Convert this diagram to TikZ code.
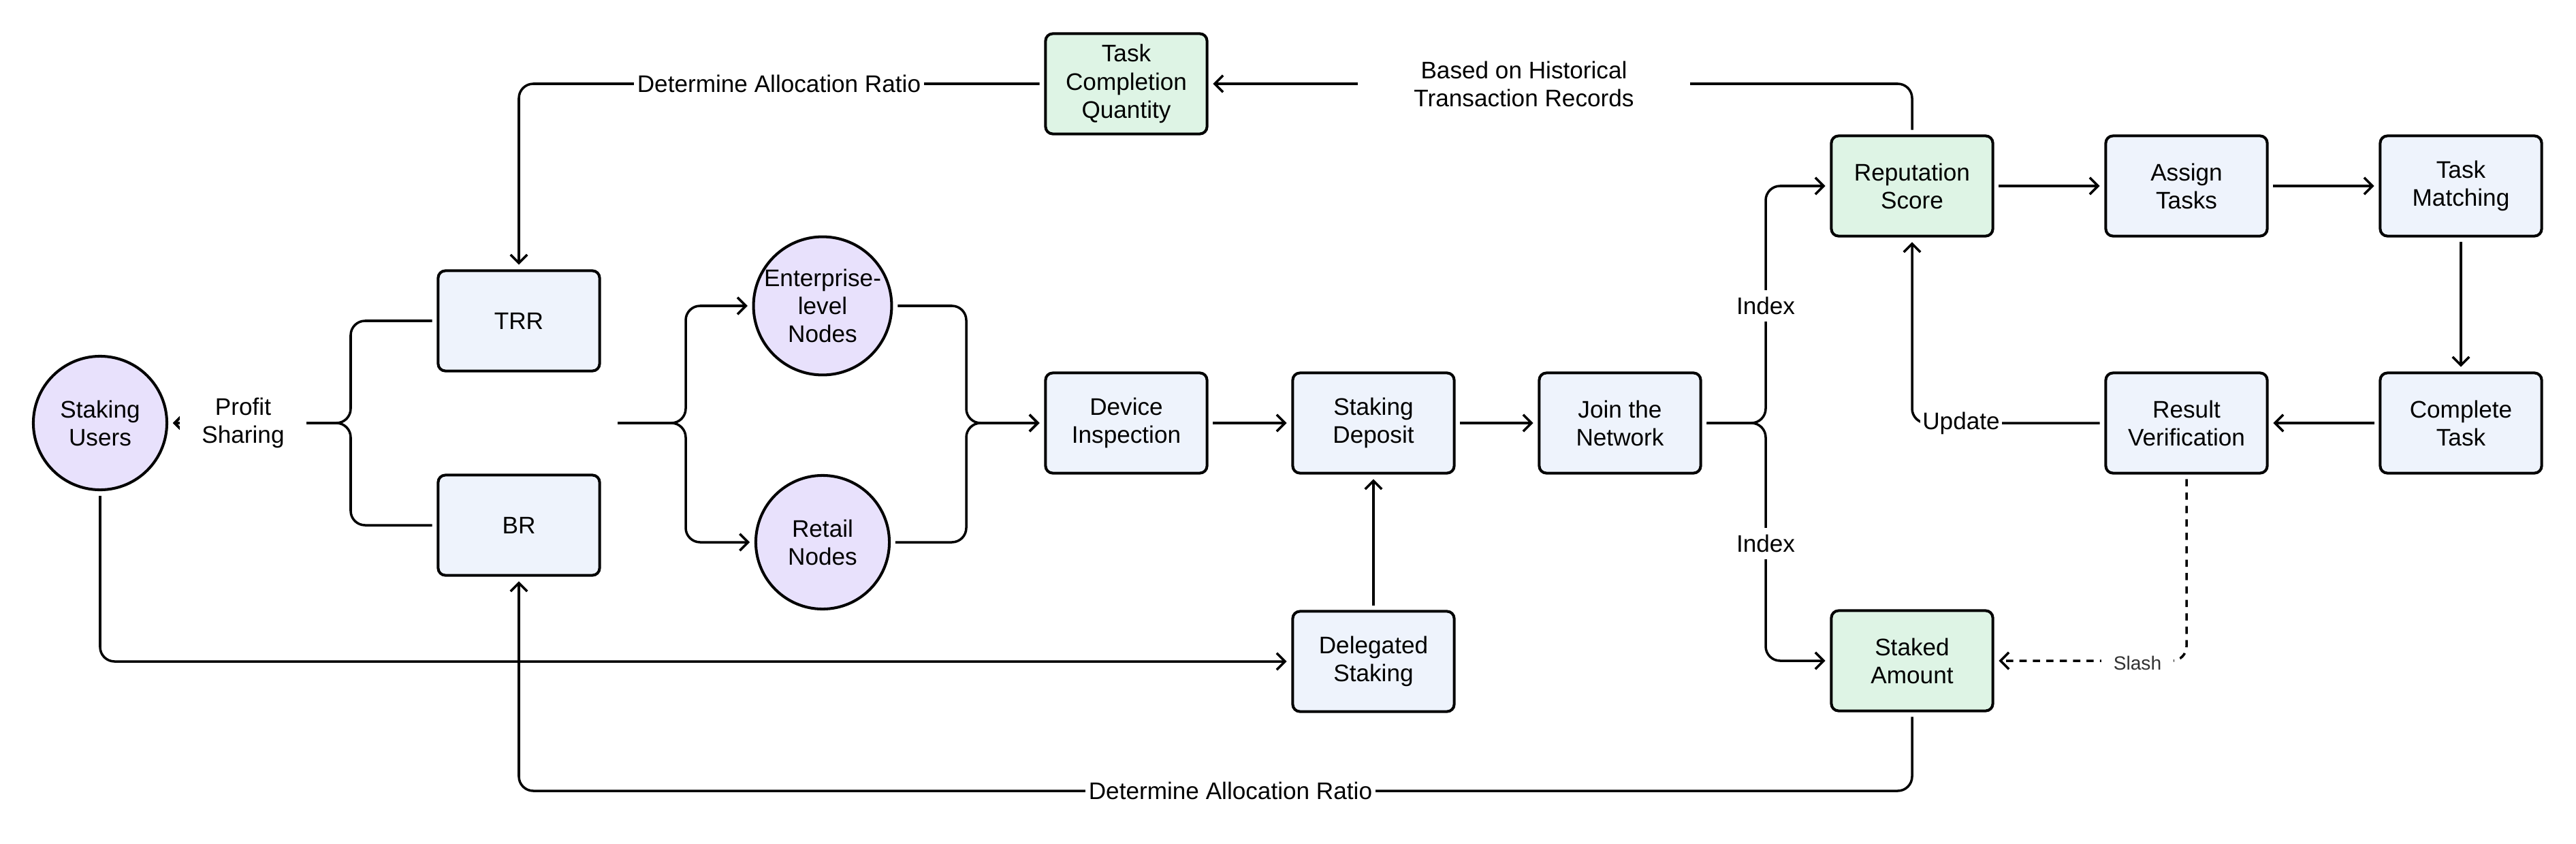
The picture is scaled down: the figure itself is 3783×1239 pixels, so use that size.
\documentclass[tikz,border=0pt]{standalone}
\usepackage{fontspec}
\setmainfont{Liberation Sans}
\usetikzlibrary{arrows.meta,calc}
\definecolor{bluefill}{RGB}{238,243,252}
\definecolor{greenfill}{RGB}{222,244,229}
\definecolor{purplefill}{RGB}{232,225,252}
\definecolor{slashgray}{RGB}{50,50,50}
\begin{document}
\begin{tikzpicture}[x=0.01cm,y=-0.01cm,
  font=\fontsize{10pt}{11.7pt}\selectfont,
  box/.style={draw=black, line width=1.15pt, rounded corners=3pt, fill=bluefill,
    minimum width=2.37cm, minimum height=1.47cm, inner sep=0pt, align=center, outer sep=2.5pt},
  gbox/.style={box, fill=greenfill},
  circ/.style={draw=black, line width=1.15pt, circle, fill=purplefill,
    minimum size=1.96cm, inner sep=0pt, align=center, outer sep=2.5pt},
  conn/.style={draw=black, line width=1pt, rounded corners=6pt},
  arr/.style={-{Straight Barb[length=3.5pt,width=7pt]}},
  lab/.style={fill=white, inner sep=1.5pt, align=center},
  slashdash/.style={dash pattern=on 3pt off 2.6pt}
]
\useasboundingbox (0,0) rectangle (3783,1239);

% nodes
\node[circ] (SU) at (147,621) {Staking\\Users};
\node[box] (TRR) at (762,471) {TRR};
\node[box] (BR) at (762,771) {BR};
\node[circ] (EN) at (1208,449) {Enterprise-\\level\\Nodes};
\node[circ] (RN) at (1208,796) {Retail\\Nodes};
\node[box] (DI) at (1654,621) {Device\\Inspection};
\node[box] (SD) at (2017,621) {Staking\\Deposit};
\node[box] (DS) at (2017,971) {Delegated\\Staking};
\node[box] (JN) at (2379,621) {Join the\\Network};
\node[gbox] (TCQ) at (1654,123) {Task\\Completion\\Quantity};
\node[gbox] (RS) at (2808,273) {Reputation\\Score};
\node[box] (AT) at (3211,273) {Assign\\Tasks};
\node[box] (TM) at (3614,273) {Task\\Matching};
\node[box] (CT) at (3614,621) {Complete\\Task};
\node[box] (RV) at (3211,621) {Result\\Verification};
\node[gbox] (SA) at (2808,970) {Staked\\Amount};
\coordinate (B2) at (907,621);

% profit sharing brace
\draw[conn,arr] (TRR.west) -| (515,621) -- (SU.east);
\draw[conn,arr] (BR.west) -| (515,621) -- (SU.east);
\node[lab, minimum width=1.86cm, minimum height=0.9cm] (PS) at (357,621) {Profit\\Sharing};

% node-type brace
\draw[conn,arr] (B2) -| (1007,449) -- (EN.west);
\draw[conn,arr] (B2) -| (1007,796) -- (RN.west);
\draw[conn,arr] (EN.east) -| (1419,621) -- (DI.west);
\draw[conn,arr] (RN.east) -| (1419,621) -- (DI.west);

% main row
\draw[conn,arr] (DI.east) -- (SD.west);
\draw[conn,arr] (SD.east) -- (JN.west);
\draw[conn,arr] (DS.north) -- (SD.south);
\draw[conn,arr] (SU.south) |- (DS.west);

% index brace
\draw[conn,arr] (JN.east) -| (2593,273) -- (RS.west);
\draw[conn,arr] (JN.east) -| (2593,970) -- (SA.west);
\node[lab, inner sep=3pt] (I1) at (2593,449) {Index};
\node[lab, inner sep=3pt] (I2) at (2593,798) {Index};

% task loop
\draw[conn,arr] (RS.east) -- (AT.west);
\draw[conn,arr] (AT.east) -- (TM.west);
\draw[conn,arr] (TM.south) -- (CT.north);
\draw[conn,arr] (CT.west) -- (RV.east);
\draw[conn,arr] (RV.west) -| (RS.south);
\node[lab, inner sep=1pt] (UP) at (2880,621) {Update};
\draw[conn,arr,slashdash] (RV.south) |- (SA.east);
\node[lab, inner xsep=5pt, inner ysep=2pt, text=slashgray, font=\fontsize{8pt}{9.5pt}\selectfont] (SL) at (3139,973) {Slash};

% top feedback
\draw[conn,arr] (RS.north) |- (TCQ.east);
\node[lab, minimum width=4.88cm] (BH) at (2238,123) {Based on Historical\\Transaction Records};
\draw[conn,arr] (TCQ.west) -| (TRR.north);
\node[lab] (DA1) at (1144,123) {Determine Allocation Ratio};

% bottom feedback
\draw[conn,arr] (SA.south) -- (SA.south |- 0,1161) -| (BR.south);
\node[lab] (DA2) at (1807,1161) {Determine Allocation Ratio};
\end{tikzpicture}
\end{document}
